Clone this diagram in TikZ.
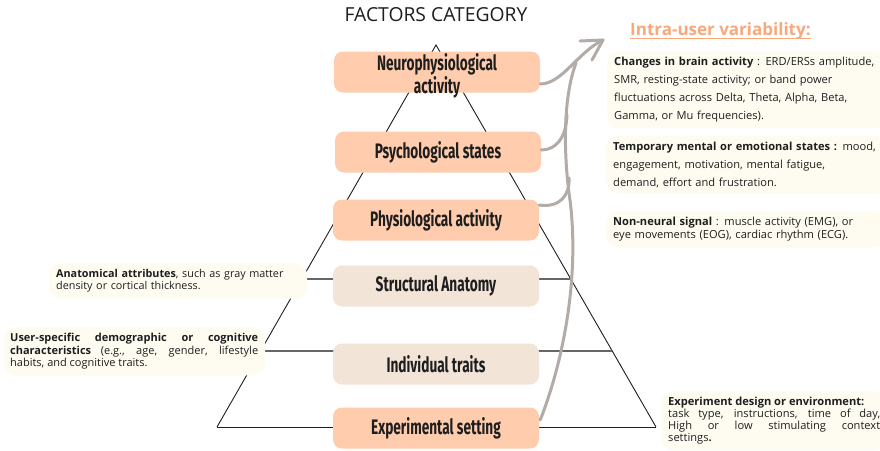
\documentclass[tikz,border=0pt]{standalone}
\usepackage{fontspec}
\setmainfont{Open Sans}
\newfontfamily\tierfont[FakeStretch=0.65]{Fira Sans}
\usetikzlibrary{calc}

\definecolor{peach}{HTML}{FFCDAE}
\definecolor{sand}{HTML}{F3E4D8}
\definecolor{cream}{HTML}{FEFCF1}
\definecolor{flowgray}{HTML}{B3ABA7}
\definecolor{accent}{HTML}{F8A87B}
\definecolor{ink}{HTML}{1E1E1E}
\definecolor{rule}{HTML}{666666}

\tikzset{
  tier/.style={fill=#1, rounded corners=9pt, minimum width=206pt, minimum height=41pt,
    inner sep=0pt, align=center, text=ink,
    font=\tierfont\bfseries\fontsize{21}{16.5}\selectfont},
  tierlabel/.style={inner sep=0pt, align=center, text=ink,
    font=\tierfont\bfseries\fontsize{21}{16.5}\selectfont},
  note/.style={fill=cream, rounded corners=12pt, inner xsep=7pt, inner ysep=6pt,
    anchor=north west, text=ink},
  edge/.style={draw=ink, line width=0.9pt},
  divider/.style={draw=rule, line width=1.1pt},
  flow/.style={draw=flowgray, line width=3pt, line cap=round},
}

\begin{document}
\begin{tikzpicture}[x=1pt,y=-1pt]
\useasboundingbox (0,0) rectangle (880,450);
\fill[white] (0,0) rectangle (880,450);

% heading
\node[font=\fontsize{19.3}{21}\selectfont, text=ink] (title) at (436,15) {FACTORS CATEGORY};

% pyramid outline and tier dividers
\coordinate (apex) at (436,45);
\coordinate (bl) at (217,427);
\coordinate (br) at (656,427);
\draw[edge] (bl) -- (apex) -- (br);
\draw[edge] (bl) -- (br);
\draw[divider] ($(apex)!0.6126!(bl)$) -- ($(apex)!0.6126!(br)$);
\draw[divider] ($(apex)!0.801!(bl)$) -- ($(apex)!0.801!(br)$);

% tiers
\node[tier=peach] (neuro)  at (437,72)  {};
\node[tierlabel] (neurotext) at ($(neuro)+(0,3.5)$) {Neurophysiological\\activity};
\node[tier=peach] (psych)  at (438,152) {Psychological states};
\node[tier=peach] (physio) at (436,220) {Physiological activity};
\node[tier=sand]  (anat)   at (436,286) {Structural Anatomy};
\node[tier=sand]  (indiv)  at (436,364) {Individual traits};
\node[tier=peach] (exper)  at (436,428) {Experimental setting};

% intra-user variability flows
\coordinate (tip) at (603,40);
\coordinate (join) at (576,63);
\draw[flow] ($(neuro.east)+(0,12)$) .. controls (562,84) and (578,52) .. (tip);
\draw[flow] (tip) -- ++(-23,1);
\draw[flow] (tip) -- ++(-11,20);
\draw[flow] ($(exper.east)+(1,-8)$) .. controls (562,365) and (580,280) .. (570,200)
  .. controls (564,160) and (562,100) .. (join);
\draw[flow] ($(psych.east)+(0,-2)$) .. controls (556,150) and (566,138) .. (567,115);
\draw[flow] ($(physio.east)+(0,-15)$) .. controls (560,208) and (570,195) .. (569,178);

% heading of the right column
\node[font=\bfseries\fontsize{17}{20}\selectfont, text=accent, inner sep=0pt, anchor=base west]
  (intra) at (630,35) {Intra-user variability:};
\draw[accent, line width=1.6pt] ($(intra.base west)+(0,3.5)$) -- ($(intra.base east)+(0,3.5)$);

% descriptions
\node[note, text width=266pt, font=\fontsize{11.1}{18}\selectfont] (brain) at (607,51)
  {\textbf{Changes in brain activity} : ERD/ERSs amplitude,\\
   SMR, resting-state activity; or band power\\
   fluctuations across Delta, Theta, Alpha, Beta,\\
   Gamma, or Mu frequencies).};
\node[note, text width=266pt, font=\fontsize{11.1}{18}\selectfont] (mental) at (606,135.5)
  {\textbf{Temporary mental or emotional states :} mood,\\
   engagement, motivation, mental fatigue,\\
   demand, effort and frustration.};
\node[note, text width=266pt, font=\fontsize{11.1}{13}\selectfont] (signal) at (606,211)
  {\textbf{Non-neural signal} : muscle activity (EMG), or\\
   eye movements (EOG), cardiac rhythm (ECG).};
\node[note, text width=244pt, font=\fontsize{10.8}{12.5}\selectfont] (anatomy) at (49,263)
  {\textbf{Anatomical attributes}, such as gray matter\\
   density or cortical thickness.};
\node[note, text width=248pt, align=justify, font=\fontsize{11}{12.5}\selectfont] (user) at (3,327)
  {\textbf{User-specific demographic or cognitive}\linebreak
   \textbf{characteristics} (e.g., age, gender, lifestyle\linebreak
   habits, and cognitive traits.};
\node[note, text width=212pt, align=justify, font=\fontsize{11.1}{12}\selectfont] (design) at (661,391)
  {\textbf{Experiment design or environment:}\\
   task type, instructions, time of day,\linebreak
   High or low stimulating context\linebreak
   settings\textbf{.}};
\end{tikzpicture}
\end{document}
